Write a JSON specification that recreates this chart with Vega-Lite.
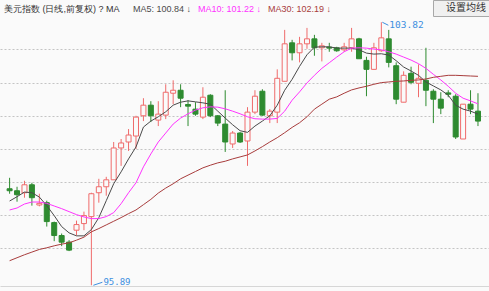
{
  "$schema": "https://vega.github.io/schema/vega-lite/v6.json",
  "width": 489,
  "height": 291,
  "autosize": {"type": "fit", "contains": "padding"},
  "padding": {"left": 0, "right": 0, "top": 0, "bottom": 3},
  "background": "#fafafa",
  "config": {"view": {"stroke": null}, "font": "Liberation Sans"},
  "datasets": {
    "k": [
      {"i":1,"o":98.80,"h":99.13,"l":98.65,"c":98.74,"ma5":98.43,"ma10":98.16,"ma30":96.63},
      {"i":2,"o":98.74,"h":98.86,"l":98.41,"c":98.62,"ma5":98.56,"ma10":98.22,"ma30":96.72},
      {"i":3,"o":98.68,"h":99.04,"l":98.53,"c":98.92,"ma5":98.70,"ma10":98.34,"ma30":96.81},
      {"i":4,"o":98.92,"h":98.98,"l":98.29,"c":98.53,"ma5":98.68,"ma10":98.40,"ma30":96.89},
      {"i":5,"o":98.31,"h":98.65,"l":98.27,"c":98.36,"ma5":98.55,"ma10":98.40,"ma30":96.97},
      {"i":6,"o":98.38,"h":98.44,"l":97.66,"c":97.81,"ma5":98.29,"ma10":98.36,"ma30":97.02},
      {"i":7,"o":97.78,"h":97.81,"l":97.22,"c":97.39,"ma5":97.99,"ma10":98.28,"ma30":97.08},
      {"i":8,"o":97.39,"h":97.45,"l":97.07,"c":97.19,"ma5":97.66,"ma10":98.20,"ma30":97.13},
      {"i":9,"o":97.19,"h":97.25,"l":96.92,"c":96.95,"ma5":97.47,"ma10":98.11,"ma30":97.17},
      {"i":10,"o":97.55,"h":97.84,"l":97.39,"c":97.72,"ma5":97.38,"ma10":98.02,"ma30":97.25},
      {"i":11,"o":97.75,"h":98.11,"l":97.55,"c":97.99,"ma5":97.38,"ma10":97.95,"ma30":97.34},
      {"i":12,"o":97.96,"h":98.68,"l":95.89,"c":98.65,"ma5":97.57,"ma10":97.90,"ma30":97.50},
      {"i":13,"o":98.68,"h":99.10,"l":98.38,"c":98.86,"ma5":97.93,"ma10":97.90,"ma30":97.60},
      {"i":14,"o":98.86,"h":99.16,"l":98.59,"c":99.07,"ma5":98.44,"ma10":97.96,"ma30":97.71},
      {"i":15,"o":99.07,"h":100.21,"l":99.07,"c":100.03,"ma5":98.95,"ma10":98.08,"ma30":97.82},
      {"i":16,"o":100.03,"h":100.30,"l":99.49,"c":100.18,"ma5":99.31,"ma10":98.35,"ma30":97.93},
      {"i":17,"o":100.21,"h":100.60,"l":99.94,"c":100.42,"ma5":99.70,"ma10":98.68,"ma30":98.05},
      {"i":18,"o":100.39,"h":101.00,"l":100.00,"c":100.96,"ma5":100.06,"ma10":98.98,"ma30":98.16},
      {"i":19,"o":101.00,"h":101.53,"l":100.84,"c":101.32,"ma5":100.66,"ma10":99.46,"ma30":98.32},
      {"i":20,"o":101.32,"h":101.44,"l":100.81,"c":101.00,"ma5":100.84,"ma10":99.85,"ma30":98.48},
      {"i":21,"o":100.87,"h":101.44,"l":100.69,"c":101.05,"ma5":100.97,"ma10":100.21,"ma30":98.67},
      {"i":22,"o":101.02,"h":101.95,"l":100.90,"c":101.71,"ma5":101.12,"ma10":100.48,"ma30":98.82},
      {"i":23,"o":101.68,"h":102.07,"l":101.35,"c":101.77,"ma5":101.32,"ma10":100.75,"ma30":98.95},
      {"i":24,"o":101.77,"h":101.95,"l":101.26,"c":101.53,"ma5":101.41,"ma10":100.93,"ma30":99.10},
      {"i":25,"o":101.34,"h":101.47,"l":100.69,"c":101.29,"ma5":101.45,"ma10":101.06,"ma30":99.21},
      {"i":26,"o":101.20,"h":101.41,"l":101.00,"c":101.05,"ma5":101.42,"ma10":101.17,"ma30":99.32},
      {"i":27,"o":100.96,"h":101.86,"l":100.90,"c":101.56,"ma5":101.39,"ma10":101.24,"ma30":99.43},
      {"i":28,"o":101.62,"h":101.65,"l":100.96,"c":101.00,"ma5":101.35,"ma10":101.27,"ma30":99.51},
      {"i":29,"o":101.00,"h":101.02,"l":100.69,"c":100.78,"ma5":101.14,"ma10":101.26,"ma30":99.58},
      {"i":30,"o":100.75,"h":101.77,"l":99.91,"c":100.21,"ma5":100.93,"ma10":101.21,"ma30":99.63},
      {"i":31,"o":100.15,"h":100.54,"l":100.03,"c":100.48,"ma5":100.73,"ma10":101.14,"ma30":99.70},
      {"i":32,"o":100.48,"h":100.51,"l":100.18,"c":100.21,"ma5":100.55,"ma10":101.06,"ma30":99.76},
      {"i":33,"o":100.24,"h":101.26,"l":99.49,"c":101.11,"ma5":100.50,"ma10":100.97,"ma30":99.82},
      {"i":34,"o":101.11,"h":101.77,"l":101.05,"c":101.59,"ma5":100.69,"ma10":100.91,"ma30":99.94},
      {"i":35,"o":101.74,"h":101.80,"l":101.00,"c":101.02,"ma5":100.84,"ma10":100.90,"ma30":100.07},
      {"i":36,"o":101.00,"h":101.20,"l":100.78,"c":101.14,"ma5":101.00,"ma10":100.90,"ma30":100.21},
      {"i":37,"o":101.11,"h":102.40,"l":100.78,"c":102.13,"ma5":101.32,"ma10":100.92,"ma30":100.34},
      {"i":38,"o":102.04,"h":103.59,"l":102.04,"c":103.17,"ma5":101.77,"ma10":101.14,"ma30":100.49},
      {"i":39,"o":103.20,"h":103.29,"l":102.67,"c":102.90,"ma5":102.10,"ma10":101.47,"ma30":100.65},
      {"i":40,"o":102.90,"h":103.38,"l":102.61,"c":103.17,"ma5":102.49,"ma10":101.72,"ma30":100.79},
      {"i":41,"o":103.17,"h":103.65,"l":103.02,"c":103.32,"ma5":102.84,"ma10":101.99,"ma30":100.97},
      {"i":42,"o":103.32,"h":103.44,"l":102.81,"c":103.05,"ma5":103.07,"ma10":102.22,"ma30":101.20},
      {"i":43,"o":103.05,"h":103.20,"l":102.64,"c":103.11,"ma5":103.08,"ma10":102.43,"ma30":101.35},
      {"i":44,"o":103.07,"h":103.20,"l":102.93,"c":103.04,"ma5":103.08,"ma10":102.60,"ma30":101.50},
      {"i":45,"o":103.05,"h":103.08,"l":102.93,"c":102.96,"ma5":103.04,"ma10":102.77,"ma30":101.57},
      {"i":46,"o":102.99,"h":103.20,"l":102.93,"c":103.08,"ma5":103.04,"ma10":102.93,"ma30":101.68},
      {"i":47,"o":103.05,"h":103.65,"l":102.93,"c":103.32,"ma5":103.04,"ma10":103.04,"ma30":101.78},
      {"i":48,"o":103.32,"h":103.35,"l":102.72,"c":102.72,"ma5":102.99,"ma10":103.05,"ma30":101.84},
      {"i":49,"o":102.67,"h":102.78,"l":101.59,"c":102.40,"ma5":102.89,"ma10":103.04,"ma30":101.89},
      {"i":50,"o":102.40,"h":103.20,"l":102.40,"c":103.05,"ma5":102.86,"ma10":103.01,"ma30":101.95},
      {"i":51,"o":102.96,"h":103.82,"l":102.93,"c":103.35,"ma5":102.87,"ma10":102.99,"ma30":102.00},
      {"i":52,"o":103.32,"h":103.59,"l":102.46,"c":102.61,"ma5":102.83,"ma10":102.93,"ma30":102.02},
      {"i":53,"o":102.51,"h":102.61,"l":101.35,"c":101.50,"ma5":102.66,"ma10":102.86,"ma30":102.04},
      {"i":54,"o":101.41,"h":102.34,"l":101.41,"c":102.22,"ma5":102.47,"ma10":102.77,"ma30":102.05},
      {"i":55,"o":102.28,"h":102.48,"l":101.95,"c":102.01,"ma5":102.35,"ma10":102.68,"ma30":102.07},
      {"i":56,"o":101.98,"h":102.55,"l":101.56,"c":102.13,"ma5":102.22,"ma10":102.57,"ma30":102.08},
      {"i":57,"o":102.07,"h":103.05,"l":101.29,"c":101.77,"ma5":102.02,"ma10":102.43,"ma30":102.11},
      {"i":58,"o":101.74,"h":101.80,"l":100.78,"c":101.50,"ma5":101.90,"ma10":102.25,"ma30":102.16},
      {"i":59,"o":101.50,"h":101.71,"l":101.05,"c":101.23,"ma5":101.78,"ma10":102.08,"ma30":102.19},
      {"i":60,"o":101.69,"h":101.77,"l":101.56,"c":101.65,"ma5":101.62,"ma10":101.89,"ma30":102.22},
      {"i":61,"o":101.59,"h":101.65,"l":100.30,"c":100.36,"ma5":101.32,"ma10":101.68,"ma30":102.22},
      {"i":62,"o":100.30,"h":101.35,"l":100.30,"c":101.35,"ma5":101.20,"ma10":101.53,"ma30":102.21},
      {"i":63,"o":101.35,"h":101.77,"l":101.05,"c":101.20,"ma5":101.14,"ma10":101.45,"ma30":102.20},
      {"i":64,"o":101.14,"h":101.68,"l":100.69,"c":100.84,"ma5":101.05,"ma10":101.36,"ma30":102.19}
    ]
  },
  "data": {"name": "k"},
  "encoding": {
    "x": {
      "field": "i",
      "type": "quantitative",
      "scale": {"domain": [0.381, 64.81], "nice": false, "zero": false},
      "axis": {"title": null, "labels": false, "ticks": false, "grid": false, "domain": true, "domainColor": "#d6d6d6", "domainWidth": 1}
    }
  },
  "layer": [
    {
      "mark": {"type": "rule", "strokeWidth": 1},
      "encoding": {
        "y": {
          "field": "l",
          "type": "quantitative",
          "scale": {"domain": [95.868, 104.491], "nice": false, "zero": false},
          "axis": {"title": null, "labels": false, "ticks": false, "domain": false, "grid": true, "values": [97, 98, 99, 100, 101, 102, 103], "gridColor": "#c4c4c4", "gridDash": [2, 2], "gridWidth": 1}
        },
        "y2": {"field": "h"},
        "color": {"condition": {"test": "datum.c > datum.o", "value": "#ef6b6b"}, "value": "#2e8b30"}
      }
    },
    {
      "mark": {"type": "bar", "size": 5, "strokeWidth": 1},
      "encoding": {
        "y": {"field": "o", "type": "quantitative"},
        "y2": {"field": "c"},
        "fill": {"condition": {"test": "datum.c > datum.o", "value": "#fafafa"}, "value": "#2e8b30"},
        "stroke": {"condition": {"test": "datum.c > datum.o", "value": "#ef6b6b"}, "value": "#2e8b30"}
      }
    },
    {
      "transform": [{"fold": ["ma5", "ma10", "ma30"], "as": ["key", "val"]}],
      "mark": {"type": "line", "strokeWidth": 1},
      "encoding": {
        "y": {"field": "val", "type": "quantitative"},
        "color": {
          "field": "key",
          "type": "nominal",
          "scale": {"domain": ["ma5", "ma10", "ma30"], "range": ["#4a4a4a", "#ff33ff", "#a83c3c"]},
          "legend": {
            "orient": "top-left",
            "offset": 4,
            "padding": 0,
            "direction": "horizontal",
            "title": "美元指数 (日线,前复权) ? MA",
            "titleOrient": "left",
            "titleFont": "Liberation Sans",
            "titleFontSize": 9,
            "titleFontWeight": "normal",
            "titleColor": "#333333",
            "titlePadding": 11,
            "labelFont": "Liberation Sans",
            "labelFontSize": 9,
            "labelExpr": "{'ma5': 'MA5: 100.84 ↓', 'ma10': 'MA10: 101.22 ↓', 'ma30': 'MA30: 102.19 ↓'}[datum.value]",
            "symbolSize": 0,
            "symbolOpacity": 0,
            "symbolStrokeWidth": 0,
            "labelOffset": -7,
            "columnPadding": 4,
            "encode": {"labels": {"update": {"fill": {"scale": "color", "field": "value"}}}}
          }
        }
      }
    },
    {
      "transform": [{"filter": "datum.i == 64"}],
      "mark": {"type": "point", "opacity": 0},
      "encoding": {
        "y": {"field": "c", "type": "quantitative"},
        "shape": {
          "field": "i",
          "type": "nominal",
          "legend": {
            "orient": "top-right",
            "offset": 0,
            "padding": 3,
            "title": null,
            "labelExpr": "'设置均线'",
            "labelFont": "Noto Sans CJK SC",
            "labelFontSize": 10,
            "labelColor": "#333333",
            "symbolSize": 0,
            "symbolOpacity": 0,
            "symbolStrokeWidth": 0,
            "labelOffset": 0,
            "strokeColor": "#a8a8a8",
            "fillColor": "#f0f0f0"
          }
        }
      }
    },
    {
      "transform": [{"filter": "datum.i == 51"}],
      "mark": {"type": "rule", "color": "#3d8fe0", "strokeWidth": 1, "xOffset": 1, "x2Offset": 7, "y2Offset": 3},
      "encoding": {"y": {"field": "h", "type": "quantitative"}, "x2": {"field": "i"}, "y2": {"field": "h"}}
    },
    {
      "transform": [{"filter": "datum.i == 51"}],
      "mark": {"type": "text", "align": "left", "baseline": "middle", "dx": 8, "dy": 3, "color": "#3d8fe0", "fontSize": 9.5, "font": "DejaVu Sans Mono"},
      "encoding": {"y": {"field": "h", "type": "quantitative"}, "text": {"field": "h", "type": "quantitative", "format": ".2f"}}
    },
    {
      "transform": [{"filter": "datum.i == 12"}],
      "mark": {"type": "rule", "color": "#3d8fe0", "strokeWidth": 1, "xOffset": 2, "x2Offset": 11, "y2Offset": -3},
      "encoding": {"y": {"field": "l", "type": "quantitative"}, "x2": {"field": "i"}, "y2": {"field": "l"}}
    },
    {
      "transform": [{"filter": "datum.i == 12"}],
      "mark": {"type": "text", "align": "left", "baseline": "middle", "dx": 12, "dy": -3, "color": "#3d8fe0", "fontSize": 9, "font": "DejaVu Sans Mono"},
      "encoding": {"y": {"field": "l", "type": "quantitative"}, "text": {"field": "l", "type": "quantitative", "format": ".2f"}}
    }
  ]
}
